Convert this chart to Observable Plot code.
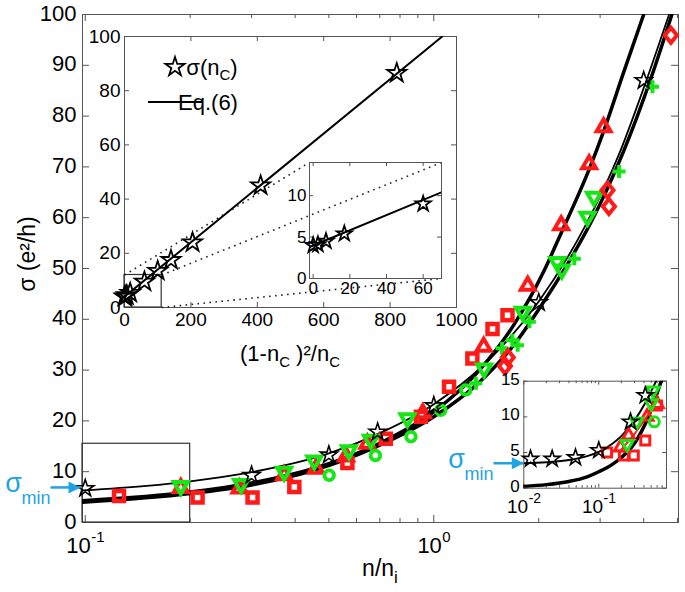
<!DOCTYPE html>
<html><head><meta charset="utf-8">
<script src="https://cdn.jsdelivr.net/npm/d3@7"></script>
<script src="https://cdn.jsdelivr.net/npm/@observablehq/plot@0.6"></script>
<style>
body{margin:0;background:#fff;}
#wrap{position:relative;width:685px;height:592px;overflow:hidden;background:#fff;}
#wrap svg{position:absolute;left:0;top:0;}
</style></head><body><div id="wrap"></div>
<script>
// ================= DATA =================
// main panel (x = n/n_i, log; y = sigma)
const mainXDomain = [0.0982, 5.035];
const mainYDomain = [0, 100];
const mainYTicks = [0, 10, 20, 30, 40, 50, 60, 70, 80, 90, 100];
const mainXMajor = [0.1, 1];
const mainXMinor = [0.2, 0.3, 0.4, 0.5, 0.6, 0.7, 0.8, 0.9, 2, 3, 4, 5];
const mainXExp = ["-1", "0"];

const starsX = [0.1, 0.3, 0.5, 0.69, 1.0, 2.0, 4.0];
const starsY = [6.7, 9.3, 13.3, 17.8, 23.0, 43.3, 87.0];
const redSquareX = [0.125, 0.21, 0.302, 0.398, 0.565, 0.728, 0.918, 1.106, 1.29, 1.474, 1.627];
const redSquareY = [5.2, 4.9, 4.9, 7.0, 11.7, 16.5, 20.8, 26.7, 32.3, 38.1, 40.8];
const redTriX = [0.188, 0.277, 0.372, 0.459, 0.56, 0.645, 0.93, 1.39, 1.86, 2.32, 2.79, 3.07];
const redTriY = [6.8, 6.7, 9.3, 10.6, 13.0, 15.5, 21.5, 34.6, 46.6, 58.5, 70.5, 77.8];
const greenTriX = [0.188, 0.28, 0.372, 0.454, 0.571, 0.66, 0.84, 1.394, 1.8, 2.26, 2.33, 2.76, 2.88];
const greenTriY = [7.2, 7.6, 10.0, 12.2, 14.2, 16.3, 20.5, 30.3, 41.5, 51.3, 49.8, 60.2, 64.1];
const greenCircleX = [0.501, 0.68, 0.86, 1.047, 1.235];
const greenCircleY = [9.3, 13.2, 16.9, 22.1, 26.1];
const greenPlusX = [1.32, 1.57, 1.68, 1.74, 1.88, 2.53, 3.4, 4.24];
const greenPlusY = [27.4, 34.3, 35.9, 34.9, 39.5, 51.9, 69.1, 85.8];
const redDiamondX = [1.6, 1.63, 3.15, 3.18, 4.79];
const redDiamondY = [30.8, 32.5, 65.4, 62.2, 95.9];

const fitThinX = [0.0982, 0.15, 0.2, 0.3, 0.5, 0.7, 1.0, 1.4, 2.0, 2.7, 3.4, 4.0, 4.73];
const fitThinY = [6.3, 7.2, 8.1, 9.9, 13.6, 17.6, 23.3, 31.2, 43.5, 58.0, 72.5, 85.5, 100];
const fitThickAX = [0.0982, 0.2, 0.3, 0.45, 0.7, 1.0, 1.36, 1.7, 2.07, 2.32, 2.79, 3.07, 3.5, 4.0];
const fitThickAY = [4.3, 6.0, 7.8, 10.6, 15.6, 21.8, 30.2, 39.0, 49.5, 57.0, 69.5, 77.0, 88.5, 100];
const fitThickBX = [0.0982, 0.2, 0.3, 0.45, 0.7, 1.0, 1.36, 1.7, 2.07, 2.45, 2.82, 3.5, 4.2, 4.82];
const fitThickBY = [4.0, 5.7, 7.4, 10.2, 15.2, 20.8, 27.8, 35.0, 43.5, 51.5, 59.0, 73.0, 87.5, 100];

const zoomBoxMain = [{x1: 0.0982, x2: 0.2, y1: 0, y2: 15.5}];
const sigmaMinMain = [{x1: 0.0795, x2: 0.0969, y: 6.9}];

// inset 1 (x = (1-nc)^2/nc, y = sigma)
const in1XDomain = [0, 1000];
const in1YDomain = [0, 100];
const in1XTicks = [0, 200, 400, 600, 800, 1000];
const in1YTicks = [0, 20, 40, 60, 80, 100];
const in1StarX = [0, 2.6, 7, 17, 60, 100, 140, 205, 410, 820];
const in1StarY = [4.0, 4.1, 4.5, 5.4, 9.5, 13.5, 17.5, 24.0, 45.0, 86.5];
const in1FitX = [0, 957];
const in1FitY = [4.0, 100];
const in1ZoomBox = [{x1: 0, x2: 112, y1: 0, y2: 12}];
const in1ConnX1 = [0, 112, 112];
const in1ConnY1 = [12, 12, 0];
const in1ConnX2 = [557, 955, 955];
const in1ConnY2 = [53.5, 53.5, 10.7];

// inset 2 (zoom of inset 1)
const in2XDomain = [-2, 70];
const in2YDomain = [0, 14];
const in2XTicks = [0, 20, 40, 60];
const in2YTicks = [0, 5, 10];
const in2StarX = [0, 2.6, 7, 17, 60];
const in2StarY = [4.0, 4.1, 4.5, 5.4, 9.0];
const in2FitX = [-2, 70];
const in2FitY = [3.8, 10.4];

// inset 3 (bottom right, log x)
const in3XDomain = [0.01, 0.8];
const in3YDomain = [0, 15];
const in3XMajor = [0.01, 0.1];
const in3XMinor = [0.02, 0.03, 0.04, 0.05, 0.06, 0.07, 0.08, 0.09, 0.2, 0.3, 0.4, 0.5, 0.6, 0.7, 0.8];
const in3XExp = ["-2", "-1"];
const in3YTicks = [0, 5, 10, 15];
const in3StarX = [0.0123, 0.0239, 0.0489, 0.1, 0.265, 0.417];
const in3StarY = [4.1, 4.1, 4.3, 5.3, 9.3, 13.0];
const in3RedSquareX = [0.129, 0.216, 0.293, 0.417, 0.6];
const in3RedSquareY = [5.0, 4.6, 4.6, 6.7, 11.6];
const in3RedTriX = [0.194, 0.25, 0.44, 0.6];
const in3RedTriY = [5.7, 7.4, 10.0, 11.8];
const in3GreenTriX = [0.239, 0.32, 0.5, 0.53];
const in3GreenTriY = [6.2, 9.3, 11.9, 13.7];
const in3GreenCircleX = [0.55];
const in3GreenCircleY = [9.3];
const in3RedLineX = [0.2, 0.3, 0.45, 0.62];
const in3RedLineY = [5.4, 7.6, 10.2, 12.8];
const in3FitThinX = [0.01, 0.02, 0.04, 0.07, 0.1, 0.15, 0.2, 0.3, 0.42, 0.58];
const in3FitThinY = [3.5, 3.65, 3.95, 4.5, 5.1, 6.2, 7.3, 9.5, 12.0, 15];
const in3FitThickX = [0.01, 0.02, 0.04, 0.07, 0.1, 0.15, 0.2, 0.3, 0.45, 0.68];
const in3FitThickY = [0.25, 0.5, 0.95, 1.6, 2.3, 3.3, 4.3, 6.3, 9.8, 15];
const sigmaMinIn3 = [{x1: 0.00394, x2: 0.01, y: 3.5}];

// ================= STYLE / HELPERS =================
const W = 685, H = 592;
const FONT = "'Liberation Sans', Arial, Helvetica, sans-serif";
const AX = "#555";
const RED = "#ff1a1a", GREEN = "#16e616", BLUE = "#1ea3e3";
const pts = (xs, ys) => xs.map((x, i) => ({x, y: ys[i]}));
const S3 = Math.sqrt(3);
const symSquare = h => ({draw(c){ c.moveTo(-h,-h); c.lineTo(h,-h); c.lineTo(h,h); c.lineTo(-h,h); c.closePath(); }});
const symTriUp = R => ({draw(c){ c.moveTo(0,-R); c.lineTo(R*S3/2, R/2); c.lineTo(-R*S3/2, R/2); c.closePath(); }});
const symTriDown = R => ({draw(c){ c.moveTo(0,R); c.lineTo(R*S3/2,-R/2); c.lineTo(-R*S3/2,-R/2); c.closePath(); }});
const symDiamond = (w,h) => ({draw(c){ c.moveTo(0,-h); c.lineTo(w,0); c.lineTo(0,h); c.lineTo(-w,0); c.closePath(); }});
const symPlus = h => ({draw(c){ c.moveTo(-h,0); c.lineTo(h,0); c.moveTo(0,-h); c.lineTo(0,h); }});
const symCircle = r => ({draw(c){ c.moveTo(r,0); c.arc(0,0,r,0,2*Math.PI); c.closePath(); }});
const symStar = R => ({draw(c){ const ri = R*0.382; for(let i=0;i<10;i++){ const a=-Math.PI/2+i*Math.PI/5; const rr=i%2?ri:R; const x=rr*Math.cos(a), y=rr*Math.sin(a); if(i) c.lineTo(x,y); else c.moveTo(x,y);} c.closePath(); }});
const symArrow = (L,w) => ({draw(c){ c.moveTo(0,0); c.lineTo(-L,-w); c.lineTo(-L,w); c.closePath(); }});
const dots = (xs, ys, sym, color, sw) => Plot.dot(pts(xs, ys), {x:"x", y:"y", symbol: sym, fill:"none", stroke: color, strokeWidth: sw, strokeLinejoin:"miter"});
const fit = (xs, ys, sw, extra={}) => Plot.line(pts(xs, ys), {x:"x", y:"y", stroke:"black", strokeWidth: sw, curve:"monotone-x", clip: true, ...extra});

const wrap = document.getElementById("wrap");
function layer(opts){
  const svg = Plot.plot({width: W, height: H, style: {background:"transparent", fontFamily: FONT, overflow:"visible"}, ...opts});
  svg.style.position = "absolute"; svg.style.left = "0px"; svg.style.top = "0px";
  wrap.appendChild(svg);
  return svg;
}
// log tick label "10" + superscript, centered on tick
function logLabels(vals, exps, big, small, dy10, dyExp){
  return vals.flatMap((v, i) => {
    const w10 = 2 * 0.556 * big;
    const wExp = [...exps[i]].reduce((s, ch) => s + (ch === "-" ? 0.333 : 0.556) * small, 0);
    const dx10 = w10 - (w10 + wExp) / 2;
    return [
      Plot.text([v], {x: d => d, text: () => "10", frameAnchor:"bottom", textAnchor:"end", dx: dx10, dy: dy10, fontSize: big}),
      Plot.text([v], {x: d => d, text: () => exps[i], frameAnchor:"bottom", textAnchor:"start", dx: dx10 + 0.5, dy: dyExp, fontSize: small})
    ];
  });
}
function sigmaMin(data){
  return [
    Plot.link(data, {x1:"x1", x2:"x2", y1:"y", y2:"y", stroke: BLUE, strokeWidth: 2.5}),
    Plot.dot(data, {x:"x2", y:"y", symbol: symArrow(12, 6), fill: BLUE, stroke:"none"}),
    Plot.text(data, {x:"x1", y:"y", text: () => "σ", fill: BLUE, fontSize: 27, textAnchor:"middle", dx: -37, dy: -4}),
    Plot.text(data, {x:"x1", y:"y", text: () => "min", fill: BLUE, fontSize: 18, textAnchor:"start", dx: -29, dy: 11})
  ];
}

// ================= MAIN =================
const mL = 82, mR = 7, mT = 14, mB = 70;
const fw = W - mL - mR, fh = H - mT - mB;
const mainSvg = layer({
  marginLeft: mL, marginRight: mR, marginTop: mT, marginBottom: mB,
  x: {type: "log", domain: mainXDomain, axis: null},
  y: {domain: mainYDomain, axis: null},
  marks: [
    Plot.frame({stroke: AX}),
    Plot.tickX(mainXMajor, {x: d => d, insetTop: fh - 7, stroke: AX}),
    Plot.tickX(mainXMajor, {x: d => d, insetBottom: fh - 7, stroke: AX}),
    Plot.tickX(mainXMinor, {x: d => d, insetTop: fh - 4, stroke: AX}),
    Plot.tickX(mainXMinor, {x: d => d, insetBottom: fh - 4, stroke: AX}),
    Plot.tickY(mainYTicks, {y: d => d, insetRight: fw - 7, stroke: AX}),
    Plot.tickY(mainYTicks, {y: d => d, insetLeft: fw - 7, stroke: AX}),
    Plot.text(mainYTicks, {y: d => d, text: d => String(d), frameAnchor:"left", textAnchor:"end", dx: -6, dy: -1, fontSize: 22}),
    ...logLabels(mainXMajor, mainXExp, 22, 15, 30, 19),
    Plot.rect(zoomBoxMain, {x1:"x1", x2:"x2", y1:"y1", y2:"y2", fill:"none", stroke:"#333", strokeWidth: 1.2}),
    fit(fitThickBX, fitThickBY, 3.5),
    fit(fitThickAX, fitThickAY, 3.5),
    fit(fitThinX, fitThinY, 1.8),
    dots(redSquareX, redSquareY, symSquare(5), RED, 4.5),
    dots(redTriX, redTriY, symTriUp(8), RED, 4),
    dots(greenTriX, greenTriY, symTriDown(8), GREEN, 4),
    dots(greenCircleX, greenCircleY, symCircle(4.8), GREEN, 3.8),
    dots(greenPlusX, greenPlusY, symPlus(6.5), GREEN, 4),
    dots(redDiamondX, redDiamondY, symDiamond(6, 7.5), RED, 4),
    dots(starsX, starsY, symStar(9), "black", 1.6),
    ...sigmaMin(sigmaMinMain)
  ]
});
{
  const g = d3.select(mainSvg).append("g").attr("font-family", FONT).attr("fill", "black");
  g.append("text").attr("transform", `translate(27,${mT + fh / 2 - 14}) rotate(-90)`)
    .attr("text-anchor", "middle").attr("dominant-baseline", "central").attr("font-size", 23).text("σ (e²/h)");
  const t = g.append("text").attr("x", mL + fw / 2).attr("y", H - 16).attr("text-anchor", "middle").attr("font-size", 23);
  t.append("tspan").text("n/n");
  t.append("tspan").attr("dy", 7).attr("font-size", 17).text("i");
}

// ================= INSET 1 =================
const i1 = {l: 124, r: 456, t: 36, b: 307};
const i1w = i1.r - i1.l, i1h = i1.b - i1.t;
const in1Svg = layer({
  marginLeft: i1.l, marginRight: W - i1.r, marginTop: i1.t, marginBottom: H - i1.b,
  x: {domain: in1XDomain, axis: null},
  y: {domain: in1YDomain, axis: null},
  marks: [
    Plot.frame({fill: "white", stroke: AX}),
    Plot.tickX(in1XTicks, {x: d => d, insetTop: i1h - 5, stroke: AX}),
    Plot.tickX(in1XTicks, {x: d => d, insetBottom: i1h - 5, stroke: AX}),
    Plot.tickY(in1YTicks, {y: d => d, insetRight: i1w - 5, stroke: AX}),
    Plot.tickY(in1YTicks, {y: d => d, insetLeft: i1w - 5, stroke: AX}),
    Plot.text(in1XTicks, {x: d => d, text: d => String(d), frameAnchor:"bottom", dy: 18, fontSize: 19}),
    Plot.text(in1YTicks, {y: d => d, text: d => String(d), frameAnchor:"left", textAnchor:"end", dx: -4, fontSize: 19}),
    Plot.rect(in1ZoomBox, {x1:"x1", x2:"x2", y1:"y1", y2:"y2", fill:"none", stroke:"#333", strokeWidth: 1.2}),
    Plot.link(in1ConnX1.map((x, i) => ({x1: x, y1: in1ConnY1[i], x2: in1ConnX2[i], y2: in1ConnY2[i]})),
      {x1:"x1", y1:"y1", x2:"x2", y2:"y2", stroke:"#222", strokeWidth: 1.6, strokeDasharray:"1.6,4.4"}),
    Plot.line(pts(in1FitX, in1FitY), {x:"x", y:"y", stroke:"black", strokeWidth: 2, clip: true}),
    dots(in1StarX, in1StarY, symStar(10), "black", 1.8)
  ]
});
{
  const g = d3.select(in1Svg).append("g").attr("font-family", FONT).attr("fill", "black");
  const p = d3.path(); symStar(10).draw(p);
  g.append("path").attr("d", p.toString()).attr("transform", "translate(175,67)").attr("fill", "none").attr("stroke", "black").attr("stroke-width", 1.8);
  g.append("line").attr("x1", 148).attr("x2", 203).attr("y1", 102).attr("y2", 102).attr("stroke", "black").attr("stroke-width", 2.2);
  const l1 = g.append("text").attr("x", 212).attr("y", 74.5).attr("font-size", 22);
  l1.append("tspan").text("σ(n"); l1.append("tspan").attr("dy", 5).attr("font-size", 15).text("C"); l1.append("tspan").attr("dy", -5).text(")");
  g.append("text").attr("x", 208).attr("y", 109.5).attr("font-size", 22).text("Eq.(6)");
  const xt = g.append("text").attr("x", (i1.l + i1.r) / 2).attr("y", 361).attr("text-anchor", "middle").attr("font-size", 22);
  xt.append("tspan").text("(1-n"); xt.append("tspan").attr("dy", 6).attr("font-size", 15).text("C");
  xt.append("tspan").attr("dy", -6).text(" )²/n"); xt.append("tspan").attr("dy", 6).attr("font-size", 15).text("C");
}

// ================= INSET 2 =================
const i2 = {l: 309, r: 441, t: 162, b: 278};
const i2w = i2.r - i2.l, i2h = i2.b - i2.t;
layer({
  marginLeft: i2.l, marginRight: W - i2.r, marginTop: i2.t, marginBottom: H - i2.b,
  x: {domain: in2XDomain, axis: null},
  y: {domain: in2YDomain, axis: null},
  marks: [
    Plot.frame({stroke: AX}),
    Plot.tickX(in2XTicks, {x: d => d, insetTop: i2h - 4, stroke: AX}),
    Plot.tickX(in2XTicks, {x: d => d, insetBottom: i2h - 4, stroke: AX}),
    Plot.tickY(in2YTicks, {y: d => d, insetRight: i2w - 4, stroke: AX}),
    Plot.tickY(in2YTicks, {y: d => d, insetLeft: i2w - 4, stroke: AX}),
    Plot.text(in2XTicks, {x: d => d, text: d => String(d), frameAnchor:"bottom", dy: 15, fontSize: 17}),
    Plot.text(in2YTicks, {y: d => d, text: d => String(d), frameAnchor:"left", textAnchor:"end", dx: -3, fontSize: 17}),
    Plot.line(pts(in2FitX, in2FitY), {x:"x", y:"y", stroke:"black", strokeWidth: 2, clip: true}),
    dots(in2StarX, in2StarY, symStar(8), "black", 1.8)
  ]
});

// ================= INSET 3 =================
const i3 = {l: 523.3, r: 666, t: 380.7, b: 487.7};
const i3w = i3.r - i3.l, i3h = i3.b - i3.t;
layer({
  marginLeft: i3.l, marginRight: W - i3.r, marginTop: i3.t, marginBottom: H - i3.b,
  x: {type: "log", domain: in3XDomain, axis: null},
  y: {domain: in3YDomain, axis: null},
  marks: [
    Plot.frame({fill: "white", stroke: AX}),
    Plot.tickX(in3XMajor, {x: d => d, insetTop: i3h - 4, stroke: AX}),
    Plot.tickX(in3XMajor, {x: d => d, insetBottom: i3h - 4, stroke: AX}),
    Plot.tickX(in3XMinor, {x: d => d, insetTop: i3h - 2.5, stroke: AX}),
    Plot.tickX(in3XMinor, {x: d => d, insetBottom: i3h - 2.5, stroke: AX}),
    Plot.tickY(in3YTicks, {y: d => d, insetRight: i3w - 4, stroke: AX}),
    Plot.tickY(in3YTicks, {y: d => d, insetLeft: i3w - 4, stroke: AX}),
    Plot.text(in3YTicks, {y: d => d, text: d => String(d), frameAnchor:"left", textAnchor:"end", dx: -4, dy: -2, fontSize: 17}),
    ...logLabels(in3XMajor, in3XExp, 19, 14, 25, 15),
    fit(in3FitThickX, in3FitThickY, 3.5),
    fit(in3FitThinX, in3FitThinY, 2),
    Plot.line(pts(in3RedLineX, in3RedLineY), {x:"x", y:"y", stroke: RED, strokeWidth: 2, clip: true}),
    dots(in3RedSquareX, in3RedSquareY, symSquare(4.5), RED, 3),
    dots(in3RedTriX, in3RedTriY, symTriUp(7), RED, 3),
    dots(in3GreenTriX, in3GreenTriY, symTriDown(7), GREEN, 3),
    dots(in3GreenCircleX, in3GreenCircleY, symCircle(5), GREEN, 3),
    dots(in3StarX, in3StarY, symStar(8.5), "black", 1.6),
    ...sigmaMin(sigmaMinIn3)
  ]
});
</script></body></html>
